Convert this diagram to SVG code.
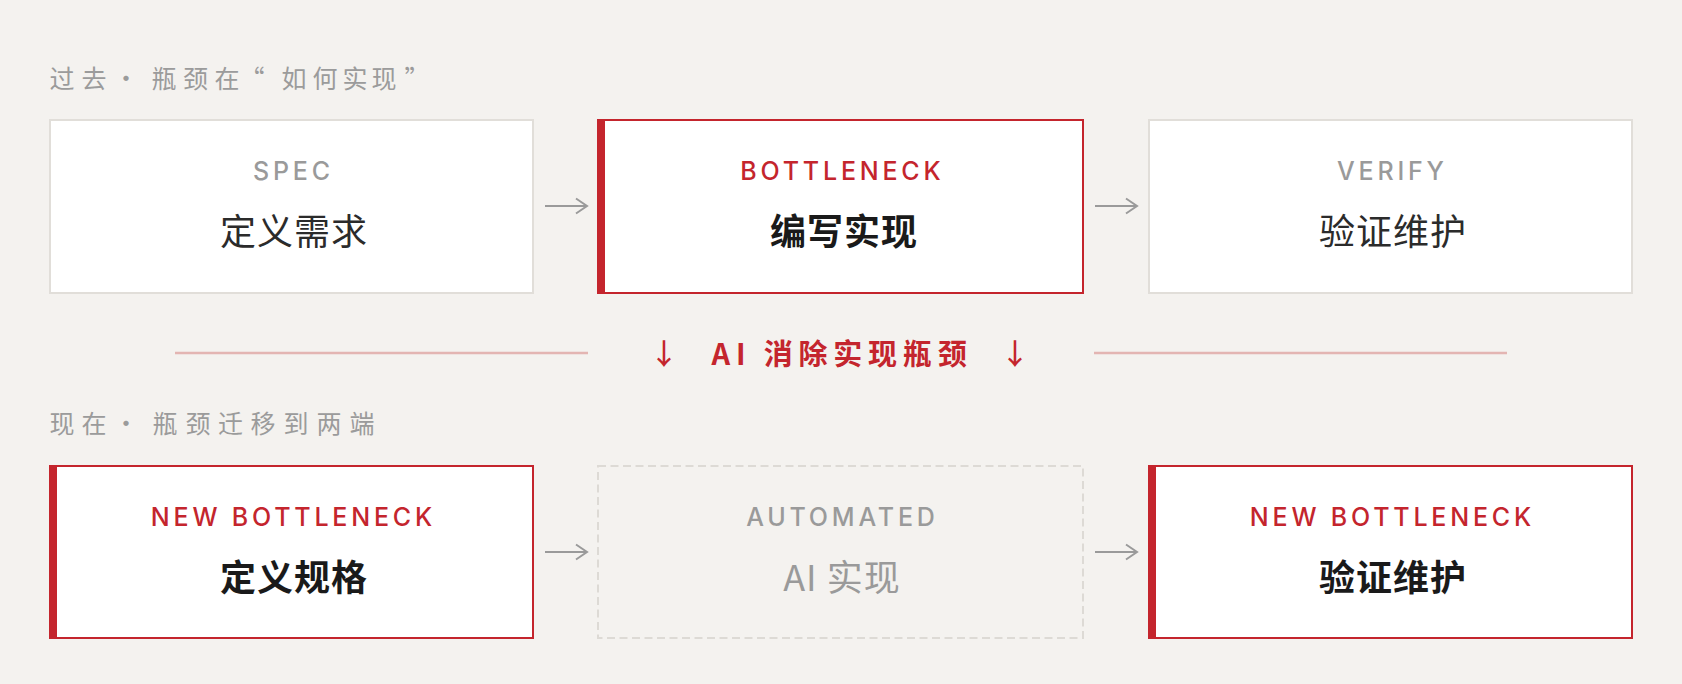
<svg xmlns="http://www.w3.org/2000/svg" width="1682" height="684" viewBox="0 0 1682 684">
  <style>
    .hdr { font-family: "Noto Sans CJK SC", "Noto Sans", sans-serif; font-size: 25px; fill: #9b9b9b; text-anchor: middle; }
    .lbl { font-family: Inter, "Liberation Sans", sans-serif; font-size: 25px; font-weight: 500; letter-spacing: 3.8px; text-anchor: middle; }
    .gray { fill: #9a9a9a; }
    .red { fill: #c4252d; }
    .ttl { font-family: "Noto Sans CJK SC", "Noto Sans", sans-serif; font-size: 36px; text-anchor: middle; letter-spacing: 1px; }
    .ttl-n { fill: #2b2b2b; font-weight: 400; }
    .ttl-b { fill: #1a1a1a; font-weight: 700; }
    .ttl-g { fill: #9a9a9a; font-weight: 400; }
    .box-plain { fill: #ffffff; stroke: #e1ded9; stroke-width: 2; }
    .box-hot { fill: #ffffff; stroke: #c4252d; stroke-width: 2; }
    .box-auto { fill: none; stroke: #dddad5; stroke-width: 2; stroke-dasharray: 8 4.5; }
    .bar { fill: #c4252d; }
    .conn { stroke: #9a9a9a; stroke-width: 2; fill: none; }
    .divider { stroke: #e3b5b2; stroke-width: 2.5; }
    .mid { font-family: "Noto Sans CJK SC", "Noto Sans", sans-serif; font-size: 29px; font-weight: 700; fill: #c4252d; letter-spacing: 5.8px; text-anchor: middle; }
    .midarrow { font-family: "Noto Sans CJK SC", "Noto Sans", sans-serif; font-size: 29px; font-weight: 500; fill: #c4252d; text-anchor: middle; }
  </style>
  <defs>
    <marker id="arrowhead" markerUnits="userSpaceOnUse" markerWidth="16" markerHeight="20" refX="12" refY="9" orient="auto">
      <path d="M 1 1.5 L 12 9 L 1 16.5" fill="none" stroke="#9a9a9a" stroke-width="2"/>
    </marker>
  </defs>

  <rect x="0" y="0" width="1682" height="684" fill="#f4f2ef"/>

  <text id="header-past" class="hdr" y="88" x="62 94 110 126 142 164 195.5 227 252 294 325 355 384 417">过去 · 瓶颈在“如何实现”</text>
  <text id="header-now" class="hdr" y="433" x="62 94 110 126 142 165 198 230.5 263 296 329 362">现在 · 瓶颈迁移到两端</text>

  <g id="node-spec">
    <rect class="box-plain" x="50" y="120" width="483" height="173"/>
    <text class="lbl gray" x="293.4" y="180">SPEC</text>
    <text class="ttl ttl-n" x="294" y="245">定义需求</text>
  </g>

  <g id="node-implement">
    <rect class="box-hot" x="598" y="120" width="485" height="173"/>
    <rect class="bar" x="597" y="119" width="8" height="175"/>
    <text class="lbl red" x="842.4" y="180">BOTTLENECK</text>
    <text class="ttl ttl-b" x="844" y="245">编写实现</text>
  </g>

  <g id="node-verify">
    <rect class="box-plain" x="1149" y="120" width="483" height="173"/>
    <text class="lbl gray" x="1392.4" y="180">VERIFY</text>
    <text class="ttl ttl-n" x="1393" y="245">验证维护</text>
  </g>

  <g id="transition">
    <line class="divider" x1="175" y1="353" x2="588" y2="353"/>
    <line class="divider" x1="1094" y1="353" x2="1507" y2="353"/>
    <text class="midarrow" x="664" y="365">↓</text>
    <text class="mid" x="842" y="365">AI 消除实现瓶颈</text>
    <text class="midarrow" x="1015" y="365">↓</text>
  </g>

  <g id="node-define-spec">
    <rect class="box-hot" x="50" y="466" width="483" height="172"/>
    <rect class="bar" x="49" y="465" width="8" height="174"/>
    <text class="lbl red" x="293.4" y="526">NEW BOTTLENECK</text>
    <text class="ttl ttl-b" x="294" y="591">定义规格</text>
  </g>

  <g id="node-ai-implement">
    <rect class="box-auto" x="598" y="466" width="485" height="172"/>
    <text class="lbl gray" x="842.4" y="526">AUTOMATED</text>
    <text class="ttl ttl-g" x="842" y="591">AI 实现</text>
  </g>

  <g id="node-verify-new">
    <rect class="box-hot" x="1149" y="466" width="483" height="172"/>
    <rect class="bar" x="1148" y="465" width="8" height="174"/>
    <text class="lbl red" x="1392.4" y="526">NEW BOTTLENECK</text>
    <text class="ttl ttl-b" x="1393" y="591">验证维护</text>
  </g>

  <g id="connectors">
    <line class="conn" x1="545" y1="206" x2="587" y2="206" marker-end="url(#arrowhead)"/>
    <line class="conn" x1="1095" y1="206" x2="1137" y2="206" marker-end="url(#arrowhead)"/>
    <line class="conn" x1="545" y1="552" x2="587" y2="552" marker-end="url(#arrowhead)"/>
    <line class="conn" x1="1095" y1="552" x2="1137" y2="552" marker-end="url(#arrowhead)"/>
  </g>
</svg>
